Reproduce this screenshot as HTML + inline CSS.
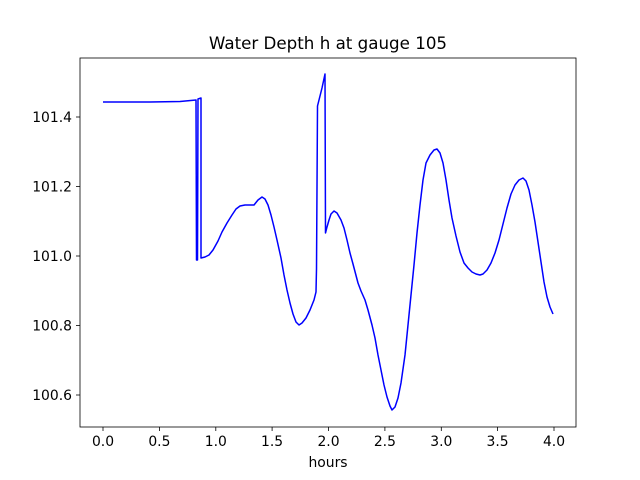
<!DOCTYPE html>
<html><head><meta charset="utf-8"><style>body{margin:0;background:#fff}svg{display:block}text{font-family:"DejaVu Sans","Liberation Sans",sans-serif;font-size:13.9px;fill:#000}</style></head><body>
<svg width="640" height="480" viewBox="0 0 640 480" xmlns="http://www.w3.org/2000/svg">
<rect width="640" height="480" fill="#fff"/>
<polyline fill="none" stroke="#0000ff" stroke-width="1.5" stroke-linejoin="round" points="103,102 150,102 180,101.5 196,100 196.5,260 197.5,260 198,99 201,98 201,258 205,257 209,255 213,250 218,241 222,232 227,223 232,215 236,209 240,206 245,205 250,205 254,205 258,200 262,197 265,199 268,205 271,215 274,227 277,240 281,258 284,275 287,290 290,303 293,314 296,322 299,325 302,323 306,318 310,310 314,300 316,292 316.5,269 317.5,106 322,88 325,74 325.5,233 327,227 329,220 331,214 334,211 337,213 341,220 344,228 347,240 350,253 353,264 358,283 361,291 365,300 368,310 372,325 375,338 378,355 381,370 384,385 387,397 390,406 392,410 395,407 398,398 401,383 405,355 408,325 411,295 414,265 417,233 420,205 423,180 426,163 430,155 434,150 437,149 440,153 443,163 446,180 449,200 452,218 456,236 460,252 464,263 468,268 472,272 476,274 480,275 483,274 487,270 491,263 495,253 499,240 503,224 507,208 511,194 515,185 519,180 523,178 526,181 529,190 532,205 535,222 538,242 541,262 544,282 547,297 550,307 553,314"/>
<rect x="80" y="58" width="496" height="369" fill="none" stroke="#000" stroke-width="0.8"/>
<g stroke="#000" stroke-width="0.8">
<line x1="103" y1="427" x2="103" y2="431"/><line x1="159.4" y1="427" x2="159.4" y2="431"/><line x1="215.8" y1="427" x2="215.8" y2="431"/><line x1="272.1" y1="427" x2="272.1" y2="431"/><line x1="328.5" y1="427" x2="328.5" y2="431"/><line x1="384.9" y1="427" x2="384.9" y2="431"/><line x1="441.3" y1="427" x2="441.3" y2="431"/><line x1="497.6" y1="427" x2="497.6" y2="431"/><line x1="554" y1="427" x2="554" y2="431"/>
<line x1="76" y1="117" x2="80" y2="117"/><line x1="76" y1="186.5" x2="80" y2="186.5"/><line x1="76" y1="256" x2="80" y2="256"/><line x1="76" y1="325.5" x2="80" y2="325.5"/><line x1="76" y1="395" x2="80" y2="395"/>
</g>
<g text-anchor="middle">
<text x="103" y="446">0.0</text><text x="159.4" y="446">0.5</text><text x="215.8" y="446">1.0</text><text x="272.1" y="446">1.5</text><text x="328.5" y="446">2.0</text><text x="384.9" y="446">2.5</text><text x="441.3" y="446">3.0</text><text x="497.6" y="446">3.5</text><text x="554" y="446">4.0</text>
<text x="328" y="467">hours</text>
<text x="328" y="49" style="font-size:16.7px">Water Depth h at gauge 105</text>
</g>
<g text-anchor="end">
<text x="72" y="122">101.4</text><text x="72" y="191.5">101.2</text><text x="72" y="261">101.0</text><text x="72" y="330.5">100.8</text><text x="72" y="400">100.6</text>
</g>
</svg>
</body></html>
